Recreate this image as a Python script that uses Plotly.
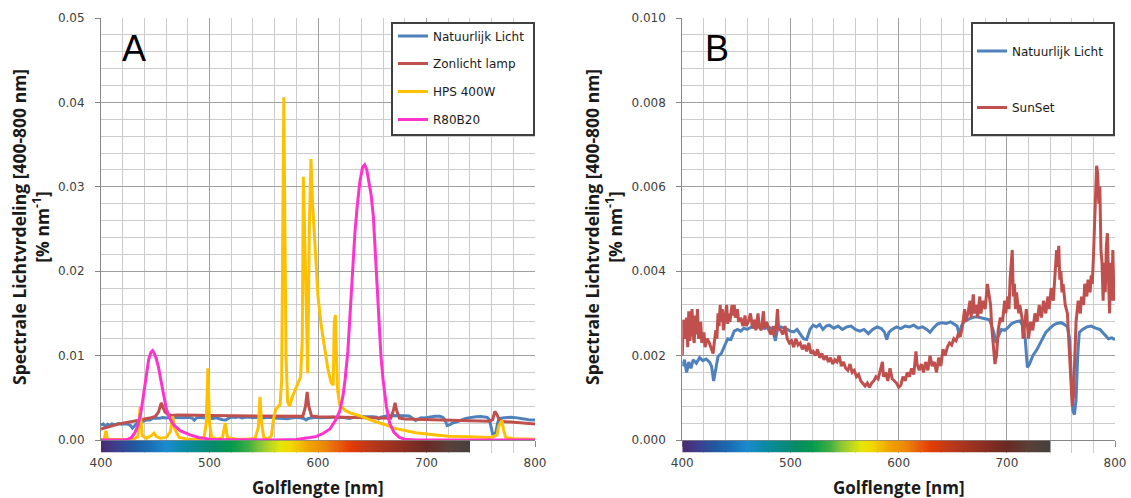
import numpy as np
import plotly.graph_objects as go

# ---------------- DATA ----------------
# Natuurlijk Licht (same measurement in A and B)
nat_nm = [400, 402, 404, 406, 408, 410, 413, 416, 419, 422, 425, 427, 429, 431, 433, 436, 439, 442, 445, 448,
          451, 454, 457, 460, 464, 468, 472, 476, 480, 484, 486, 488, 491, 494, 497, 500, 503, 506, 509, 512,
          515, 518, 521, 524, 527, 530, 533, 536, 540, 544, 548, 552, 556, 560, 564, 568, 572, 576, 580, 584,
          587, 589, 591, 594, 598, 602, 606, 610, 614, 618, 622, 626, 629, 632, 636, 640, 644, 648, 651, 654,
          656, 658, 661, 664, 668, 672, 676, 680, 684, 686, 688, 690, 692, 695, 698, 701, 704, 708, 712, 715,
          717, 719, 721, 724, 728, 732, 736, 740, 743, 746, 750, 753, 756, 758, 759.5, 761, 762.5, 764, 765.5, 767,
          770, 774, 778, 782, 786, 790, 794, 797, 800]
nat_val = [0.00175, 0.00190, 0.00160, 0.00185, 0.00170, 0.00190, 0.00182, 0.00195, 0.00188, 0.00192,
           0.00185, 0.00175, 0.00140, 0.00170, 0.00198, 0.00205, 0.00225, 0.00240, 0.00238, 0.00258,
           0.00262, 0.00258, 0.00265, 0.00262, 0.00268, 0.00265, 0.00270, 0.00264, 0.00268, 0.00260,
           0.00235, 0.00262, 0.00268, 0.00264, 0.00262, 0.00258, 0.00256, 0.00262, 0.00250, 0.00240,
           0.00238, 0.00262, 0.00272, 0.00268, 0.00274, 0.00262, 0.00270, 0.00272, 0.00265, 0.00270,
           0.00262, 0.00268, 0.00270, 0.00262, 0.00258, 0.00262, 0.00252, 0.00262, 0.00268, 0.00264,
           0.00255, 0.00238, 0.00255, 0.00262, 0.00268, 0.00264, 0.00270, 0.00268, 0.00272, 0.00265,
           0.00268, 0.00262, 0.00255, 0.00265, 0.00275, 0.00278, 0.00276, 0.00280, 0.00275, 0.00270,
           0.00250, 0.00270, 0.00282, 0.00286, 0.00290, 0.00292, 0.00290, 0.00288, 0.00285, 0.00270,
           0.00255, 0.00230, 0.00245, 0.00262, 0.00260, 0.00266, 0.00275, 0.00280, 0.00282, 0.00270,
           0.00240, 0.00172, 0.00180, 0.00200, 0.00215, 0.00235, 0.00255, 0.00265, 0.00272, 0.00276,
           0.00278, 0.00274, 0.00268, 0.00240, 0.00150, 0.00070, 0.00060, 0.00095, 0.00200, 0.00255,
           0.00262, 0.00268, 0.00270, 0.00265, 0.00262, 0.00250, 0.00240, 0.00242, 0.00238]

# Zonlicht lamp (panel A)
zon_nm = [400, 405, 410, 415, 420, 425, 430, 435, 440, 445, 450, 453, 455.5, 457, 459, 462, 466, 470, 480, 490,
          500, 510, 520, 530, 540, 550, 560, 570, 580, 586, 588.5, 590, 591.5, 594, 600, 610, 620, 630, 640, 650,
          660, 667, 669.5, 671, 672.5, 675, 680, 690, 700, 710, 720, 730, 740, 750, 758, 761, 763, 765, 767, 770,
          780, 790, 800]
zon_val = [0.00130, 0.00150, 0.00170, 0.00185, 0.00200, 0.00210, 0.00225, 0.00235, 0.00250, 0.00260,
           0.00280, 0.00330, 0.00440, 0.00400, 0.00330, 0.00300, 0.00290, 0.00295, 0.00290, 0.00292,
           0.00290, 0.00288, 0.00285, 0.00286, 0.00283, 0.00282, 0.00280, 0.00278, 0.00276, 0.00280,
           0.00400, 0.00570, 0.00400, 0.00285, 0.00275, 0.00272, 0.00270, 0.00268, 0.00265, 0.00262,
           0.00258, 0.00258, 0.00350, 0.00440, 0.00350, 0.00260, 0.00250, 0.00245, 0.00240, 0.00235,
           0.00232, 0.00230, 0.00228, 0.00225, 0.00222, 0.00240, 0.00340, 0.00300, 0.00240, 0.00220,
           0.00210, 0.00200, 0.00190]

# HPS 400W (panel A)
hps_nm = [400, 403, 404.5, 406, 410, 420, 430, 434, 436, 438, 442, 447, 449, 451, 455, 460, 464, 466, 468, 472,
          480, 490, 495, 497, 498.5, 500, 502, 508, 512, 514.5, 516.5, 525, 535, 542, 545, 546.5, 548, 550, 554, 557,
          559, 561, 563, 565, 566.5, 567.5, 568.5, 569.5, 570.5, 572, 574, 576, 579, 582, 584, 585.5, 586.5, 588.5,
          590.5, 592, 593.5, 595, 597, 600, 603, 606, 609, 612, 614, 615, 616, 617, 618, 620, 625, 630, 640, 650,
          660, 670, 680, 690, 700, 710, 720, 730, 740, 750, 760, 765, 766.5, 768, 769.5, 771, 773, 780, 790, 800]
hps_val = [0.00000, 0.00010, 0.00110, 0.00010, 0.00005, 0.00005, 0.00010, 0.00040, 0.00390, 0.00050,
           0.00020, 0.00060, 0.00080, 0.00040, 0.00020, 0.00030, 0.00100, 0.00280, 0.00130, 0.00030,
           0.00010, 0.00010, 0.00030, 0.00200, 0.00850, 0.00200, 0.00030, 0.00010, 0.00030, 0.00200,
           0.00030, 0.00010, 0.00010, 0.00020, 0.00150, 0.00510, 0.00200, 0.00030, 0.00010, 0.00050,
           0.00250, 0.00360, 0.00390, 0.00420, 0.00700, 0.02000, 0.04060, 0.02500, 0.01000, 0.00450,
           0.00400, 0.00500, 0.00600, 0.00700, 0.00750, 0.01200, 0.03120, 0.02000, 0.00790, 0.02500,
           0.03330, 0.02800, 0.02290, 0.01700, 0.01350, 0.01080, 0.00850, 0.00680, 0.00650, 0.01400,
           0.01480, 0.01000, 0.00600, 0.00420, 0.00350, 0.00320, 0.00280, 0.00230, 0.00190, 0.00140,
           0.00110, 0.00085, 0.00070, 0.00055, 0.00045, 0.00040, 0.00035, 0.00030, 0.00030, 0.00060,
           0.00160, 0.00200, 0.00230, 0.00120, 0.00030, 0.00015, 0.00010, 0.00010]

# R80B20 (panel A)
rb_nm = [400, 420, 425, 428, 431, 434, 437, 440, 442, 444, 446, 447.5, 449, 451, 453, 455, 457.5, 460, 463.5, 467,
         473, 482, 490, 500, 510, 530, 560, 580, 590, 598, 605, 611, 616, 620, 623, 625, 627.5, 629.5, 632, 634,
         636, 638.5, 641, 643, 645, 647, 649, 651, 653, 655.5, 658, 660, 663, 666, 670, 675, 680, 690, 720, 800]
rb_val = [0.00000, 0.00000, 0.00010, 0.00030, 0.00080, 0.00170, 0.00340, 0.00600, 0.00820, 0.00960,
          0.01040, 0.01060, 0.01030, 0.00960, 0.00860, 0.00720, 0.00520, 0.00380, 0.00250, 0.00180,
          0.00110, 0.00060, 0.00030, 0.00010, 0.00005, 0.00000, 0.00000, 0.00005, 0.00020, 0.00040,
          0.00080, 0.00130, 0.00230, 0.00340, 0.00520, 0.00720, 0.01050, 0.01500, 0.02000, 0.02450,
          0.02750, 0.03050, 0.03230, 0.03260, 0.03200, 0.03050, 0.02900, 0.02650, 0.02150, 0.01520,
          0.01000, 0.00710, 0.00400, 0.00200, 0.00090, 0.00030, 0.00010, 0.00000, 0.00000, 0.00000]

# SunSet (panel B)
sun_nm = [400, 401, 403, 404, 405, 406, 407, 409, 410, 411, 412, 413, 414, 415, 417, 418, 420, 421, 423, 425,
          427, 428.5, 429.5, 431, 432, 433, 434, 435, 436, 437, 438, 440, 441, 442, 443, 444, 446, 447, 448, 449,
          451, 452, 454, 456, 458, 459, 461, 463, 465, 467, 468, 470, 471, 473, 475, 476, 478, 480, 482, 484,
          485, 487, 488, 489, 491, 493, 495, 497, 499, 501, 503, 505, 507, 509, 511, 513, 515, 517, 519, 521,
          523, 525, 527, 529, 531, 533, 535, 537, 539, 541, 543, 545, 547, 549, 551, 553, 555, 557, 559, 561,
          563, 565, 567, 569, 571, 573, 575, 577, 579, 581, 583, 585, 586, 588, 590, 592, 594, 596, 598, 600,
          602, 604, 606, 608, 610, 612, 614, 616, 617, 619, 621, 623, 625, 627, 629, 631, 633, 635, 637, 639,
          641, 643, 645, 647, 649, 651, 653, 655, 657, 659, 661, 662, 664, 666, 667, 669, 670, 672, 673, 675,
          676, 678, 680, 682, 683, 685, 686, 687.5, 689, 690.5, 692, 694, 696, 698, 699, 701, 702, 703, 704, 705,
          706, 707, 708, 709, 711, 712, 714, 715, 716, 718, 720, 722, 724, 726, 728, 730, 732, 734, 736, 738,
          739, 741, 743, 745, 746, 747, 748, 749, 750, 751, 752, 754, 756, 757, 758, 759, 760.5, 761.5, 763, 764,
          766, 768, 769, 771, 772, 774, 775, 777, 778, 779, 780, 781.5, 783, 784, 785, 786, 787, 788, 789, 790,
          791, 792, 793, 794, 795, 796, 797, 798, 799, 800]
sun_val = [0.00200, 0.00285, 0.00240, 0.00290, 0.00220, 0.00305, 0.00235, 0.00310, 0.00250, 0.00230,
           0.00295, 0.00250, 0.00310, 0.00240, 0.00280, 0.00230, 0.00255, 0.00220, 0.00240, 0.00230,
           0.00215, 0.00205, 0.00230, 0.00260, 0.00240, 0.00300, 0.00270, 0.00320, 0.00280, 0.00310,
           0.00260, 0.00300, 0.00320, 0.00275, 0.00300, 0.00280, 0.00320, 0.00295, 0.00320, 0.00290,
           0.00310, 0.00280, 0.00290, 0.00270, 0.00295, 0.00270, 0.00280, 0.00300, 0.00265, 0.00285,
           0.00260, 0.00300, 0.00270, 0.00260, 0.00305, 0.00265, 0.00280, 0.00260, 0.00250, 0.00270,
           0.00245, 0.00275, 0.00310, 0.00265, 0.00260, 0.00250, 0.00270, 0.00240, 0.00230, 0.00235,
           0.00220, 0.00240, 0.00225, 0.00230, 0.00215, 0.00225, 0.00210, 0.00230, 0.00205, 0.00210,
           0.00200, 0.00215, 0.00195, 0.00205, 0.00190, 0.00200, 0.00185, 0.00195, 0.00180, 0.00190,
           0.00185, 0.00200, 0.00175, 0.00185, 0.00170, 0.00165, 0.00180, 0.00160, 0.00165, 0.00150,
           0.00155, 0.00140, 0.00135, 0.00128, 0.00135, 0.00125, 0.00135, 0.00140, 0.00150, 0.00145,
           0.00165, 0.00185, 0.00150, 0.00160, 0.00140, 0.00170, 0.00145, 0.00140, 0.00135, 0.00125,
           0.00130, 0.00150, 0.00140, 0.00160, 0.00150, 0.00170, 0.00155, 0.00210, 0.00180, 0.00165,
           0.00180, 0.00160, 0.00185, 0.00165, 0.00200, 0.00175, 0.00185, 0.00160, 0.00195, 0.00175,
           0.00215, 0.00200, 0.00220, 0.00230, 0.00225, 0.00240, 0.00235, 0.00250, 0.00245, 0.00270,
           0.00310, 0.00280, 0.00300, 0.00330, 0.00290, 0.00345, 0.00300, 0.00320, 0.00290, 0.00340,
           0.00300, 0.00330, 0.00310, 0.00370, 0.00350, 0.00320, 0.00270, 0.00220, 0.00180, 0.00200,
           0.00260, 0.00290, 0.00280, 0.00330, 0.00300, 0.00340, 0.00310, 0.00380, 0.00420, 0.00450,
           0.00340, 0.00370, 0.00310, 0.00350, 0.00300, 0.00320, 0.00290, 0.00240, 0.00260, 0.00310,
           0.00240, 0.00280, 0.00260, 0.00300, 0.00280, 0.00320, 0.00290, 0.00330, 0.00300, 0.00340,
           0.00310, 0.00360, 0.00330, 0.00420, 0.00450, 0.00410, 0.00460, 0.00380, 0.00400, 0.00350,
           0.00370, 0.00320, 0.00300, 0.00250, 0.00200, 0.00120, 0.00080, 0.00100, 0.00220, 0.00280,
           0.00330, 0.00300, 0.00340, 0.00320, 0.00370, 0.00340, 0.00380, 0.00350, 0.00390, 0.00370,
           0.00430, 0.00520, 0.00650, 0.00630, 0.00560, 0.00600, 0.00450, 0.00420, 0.00330, 0.00420,
           0.00350, 0.00460, 0.00490, 0.00380, 0.00300, 0.00420, 0.00330, 0.00450, 0.00340, 0.00330]

# Spectrum colour bar under the x axes
bar_stop_nm = [400, 415, 430, 445, 460, 475, 490, 505, 520, 535, 550, 565, 575, 590, 605, 620, 630, 645, 660,
               680, 700, 720, 740]
bar_stop_col = ['#4b2a72', '#3d3f8e', '#22579f', '#1a6fb6', '#1b8bcf', '#0c8aa6', '#0a8a86', '#078a66',
                '#049a4c', '#3aac44', '#9ccc30', '#e4e60a', '#f2d800', '#f0a800', '#ec8a08', '#e65a0c',
                '#e23c04', '#c03a18', '#a8341e', '#8a2e22', '#682a24', '#5a4038', '#44403e']

x_ticks = [400, 500, 600, 700, 800]

# ---------------- LAYOUT HELPERS ----------------
W, H = 1131, 498
ML, MR, MT, MB = 101, 16, 18, 45
PW, PH = W - ML - MR, H - MT - MB


def px(x):
    return (x - ML) / PW


def py(y):
    return (H - MB - y) / PH


BLUE, RED, YEL, MAG = '#4F81BD', '#C0504D', '#FFC000', '#FF33CC'
LW = 3
TICKFONT = dict(family='DejaVu Sans', size=12, color='#404040')
LEGFONT = dict(family='DejaVu Sans', size=12, color='#1a1a1a')
TITLEFONT = dict(family='Open Sans', size=17.5, color='#1a1a1a', weight='bold')

fig = go.Figure()

# Panel A
fig.add_trace(go.Scatter(x=nat_nm, y=nat_val, mode='lines', name='Natuurlijk Licht',
                         line=dict(color=BLUE, width=LW), xaxis='x', yaxis='y', legend='legend'))
fig.add_trace(go.Scatter(x=zon_nm, y=zon_val, mode='lines', name='Zonlicht lamp',
                         line=dict(color=RED, width=LW), xaxis='x', yaxis='y', legend='legend2'))
fig.add_trace(go.Scatter(x=hps_nm, y=hps_val, mode='lines', name='HPS 400W',
                         line=dict(color=YEL, width=LW), xaxis='x', yaxis='y', legend='legend3'))
fig.add_trace(go.Scatter(x=rb_nm, y=rb_val, mode='lines', name='R80B20',
                         line=dict(color=MAG, width=LW), xaxis='x', yaxis='y', legend='legend4'))
# Panel B
fig.add_trace(go.Scatter(x=nat_nm, y=nat_val, mode='lines', name='Natuurlijk Licht',
                         line=dict(color=BLUE, width=LW), xaxis='x2', yaxis='y2', legend='legend5'))
fig.add_trace(go.Scatter(x=sun_nm, y=sun_val, mode='lines', name='SunSet',
                         line=dict(color=RED, width=LW), xaxis='x2', yaxis='y2', legend='legend6'))

# colour bars
lo, hi = bar_stop_nm[0], bar_stop_nm[-1]
cscale = [[(n - lo) / (hi - lo), c] for n, c in zip(bar_stop_nm, bar_stop_col)]
bar_x = np.arange(lo + 0.5, hi, 1.0)
for xa, ya in (('x', 'y3'), ('x2', 'y4')):
    fig.add_trace(go.Heatmap(x=bar_x, y=[0], z=[bar_x], colorscale=cscale, zmin=lo, zmax=hi,
                             showscale=False, hoverinfo='skip', xaxis=xa, yaxis=ya, showlegend=False))

MAJOR = '#a0a0a0'
MINOR = '#cccccc'
xcommon = dict(range=[400, 800], tickvals=x_ticks, showgrid=True, gridcolor=MAJOR, gridwidth=1.4,
               minor=dict(dtick=20, showgrid=True, gridcolor=MINOR, gridwidth=1.4, ticks=''),
               ticks='outside', ticklen=6, tickcolor='#868686', showline=True, linecolor='#868686',
               linewidth=1, tickfont=TICKFONT, ticklabelstandoff=6, zeroline=False, fixedrange=True,
               automargin=False)
ycommon = dict(showgrid=True, gridcolor=MAJOR, gridwidth=1.4, ticks='outside', ticklen=5,
               tickcolor='#868686', showline=True, linecolor='#868686', linewidth=1, tickfont=TICKFONT,
               ticklabelstandoff=8, zeroline=False, domain=[py(440), 1], automargin=False, fixedrange=True)

fig.update_layout(
    width=W, height=H, margin=dict(l=ML, r=MR, t=MT, b=MB, autoexpand=False),
    paper_bgcolor='white', plot_bgcolor='white', showlegend=True,
    xaxis=dict(domain=[0, px(535)], anchor='y', **xcommon),
    xaxis2=dict(domain=[px(682.3), 1], anchor='y2', **xcommon),
    yaxis=dict(range=[0, 0.05], dtick=0.01, tickformat='.2f', anchor='x',
               minor=dict(dtick=0.002, showgrid=True, gridcolor=MINOR, gridwidth=1.4), **ycommon),
    yaxis2=dict(range=[0, 0.010], dtick=0.002, tickformat='.3f', anchor='x2',
                minor=dict(dtick=0.0004, showgrid=True, gridcolor=MINOR, gridwidth=1.4), **ycommon),
    yaxis3=dict(domain=[py(452.5), py(440.5)], anchor='x', range=[-0.5, 0.5], visible=False,
                fixedrange=True, automargin=False),
    yaxis4=dict(domain=[py(452.5), py(440.5)], anchor='x2', range=[-0.5, 0.5], visible=False,
                fixedrange=True, automargin=False),
)

# legends: one per entry for exact placement
leg_pos = {'legend': (393, 36), 'legend2': (393, 63.5), 'legend3': (393, 91.5), 'legend4': (393, 119.5),
           'legend5': (972, 51), 'legend6': (972, 107.5)}
for key, (lx, ly) in leg_pos.items():
    fig.update_layout({key: dict(x=px(lx), y=py(ly), xanchor='left', yanchor='middle', bgcolor='rgba(0,0,0,0)',
                                 borderwidth=0, font=LEGFONT, itemwidth=30)})

# legend frames
for x0, x1 in ((392, 534), (972, 1114)):
    fig.add_shape(type='rect', xref='paper', yref='paper', x0=px(x0), x1=px(x1), y0=py(135), y1=py(23),
                  line=dict(color='#404040', width=2), fillcolor='white', layer='above')

# axis titles and panel letters
ytitle = 'Spectrale Lichtvrdeling [400-800 nm]<br>[% nm<sup>-1</sup>]'
for cx in (30, 603):
    fig.add_annotation(text=ytitle, xref='paper', yref='paper', x=px(cx), y=py(227), textangle=-90,
                       showarrow=False, font=TITLEFONT, xanchor='center', yanchor='middle')
for cx in (318, 898.5):
    fig.add_annotation(text='Golflengte [nm]', xref='paper', yref='paper', x=px(cx), y=py(487),
                       showarrow=False, font=dict(family='Open Sans', size=17, color='#1a1a1a', weight='bold'),
                       xanchor='center', yanchor='middle')
for letter, cx in (('A', 134), ('B', 717)):
    fig.add_annotation(text=letter, xref='paper', yref='paper', x=px(cx), y=py(48), showarrow=False,
                       font=dict(family='Liberation Sans', size=36, color='#000000'),
                       xanchor='center', yanchor='middle')

fig.write_html('out.html', config={'displayModeBar': False},
               post_script="document.body.style.margin='0px';")
